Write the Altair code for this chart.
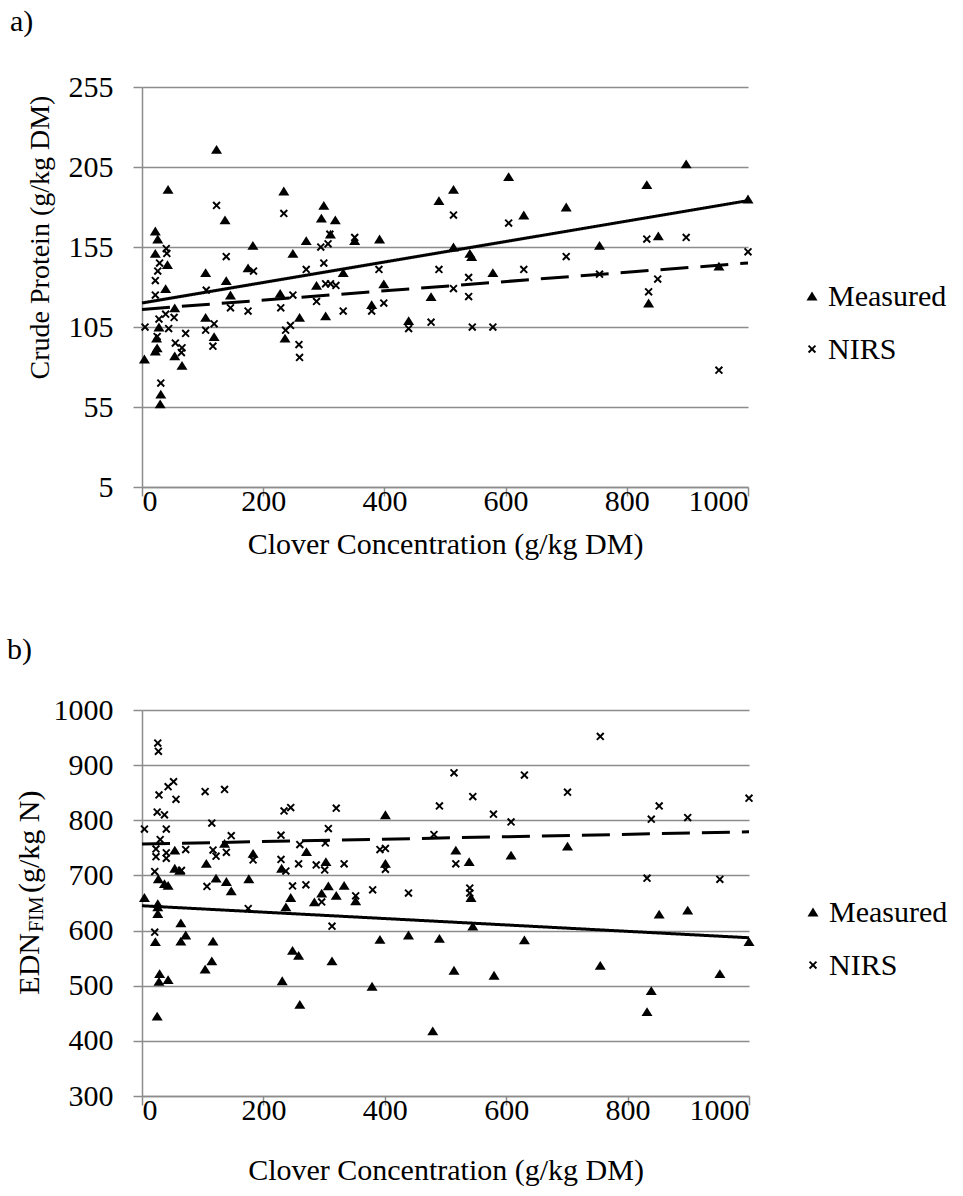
import altair as alt
import pandas as pd

series_names = ["Measured", "NIRS"]
x_ticks = [0, 200, 400, 600, 800, 1000]
a_y_ticks = [5, 55, 105, 155, 205, 255]
b_y_ticks = [300, 400, 500, 600, 700, 800, 900, 1000]

# ---- panel a) Crude protein ----
a_meas_x = [4, 22, 26, 22, 42, 39, 54, 28, 24, 25, 22, 54, 66, 31, 30, 43, 105, 105, 119, 123,
            137, 183, 139, 146, 175, 234, 249, 228, 236, 260, 271, 300, 296, 319, 288, 303, 332,
            311, 351, 392, 399, 379, 440, 477, 490, 514, 605, 630, 700, 514, 541, 544, 579, 755,
            833, 898, 852, 1000, 952, 836]
a_meas_y = [85, 165, 160, 151, 144, 129, 117, 105, 98, 92, 90, 87, 81, 63, 57, 191, 139, 111, 99, 216,
            172, 156, 134, 125, 142, 190, 151, 126, 98, 111, 159, 181, 173, 172, 131, 112, 139,
            163, 159, 160, 132, 119, 109, 124, 184, 191, 199, 175, 180, 155, 151, 149, 139, 156,
            194, 207, 162, 185, 143, 120]
a_nirs_x = [5, 22, 22, 26, 29, 40, 41, 28, 39, 53, 44, 25, 55, 72, 66, 65, 31, 123, 139, 106,
            146, 119, 105, 117, 175, 184, 234, 249, 229, 245, 237, 259, 260, 271, 295, 300, 310,
            307, 303, 311, 320, 288, 332, 351, 391, 399, 379, 440, 477, 490, 514, 605, 700, 539,
            630, 755, 514, 539, 545, 579, 833, 898, 851, 836, 1000, 952]
a_nirs_y = [105, 125, 134, 140, 145, 154, 151, 110, 113, 111, 104, 99, 95, 101, 92, 89, 70, 181, 149, 128,
            117, 107, 103, 93, 115, 140, 176, 125, 117, 106, 103, 94, 86, 141, 155, 145, 163,
            157, 132, 132, 131, 121, 115, 161, 141, 120, 115, 104, 108, 141, 175, 170, 149, 136,
            141, 138, 129, 124, 105, 105, 160, 161, 135, 127, 152, 78]
a_trend_x = [0, 1000]
a_trend_meas = [120, 184]
a_trend_nirs = [116, 145]

# ---- panel b) EDN FIM ----
b_meas_x = [4, 26, 26, 26, 22, 29, 43, 28, 25, 64, 72, 64, 54, 54, 62, 27, 37, 43, 106, 136,
            122, 139, 147, 117, 115, 104, 176, 183, 237, 245, 230, 231, 248, 258, 260, 271, 303,
            307, 320, 333, 284, 296, 352, 313, 379, 392, 401, 401, 439, 479, 490, 517, 539, 542,
            545, 514, 580, 608, 630, 701, 755, 839, 832, 852, 899, 952, 1000]
b_meas_y = [660, 649, 643, 631, 580, 522, 511, 508, 445, 614, 592, 581, 746, 713, 709, 694, 685, 682, 722, 758,
            695, 689, 672, 581, 545, 530, 694, 740, 643, 660, 713, 509, 564, 555, 466, 743, 725,
            681, 664, 682, 652, 668, 654, 545, 499, 584, 810, 722, 592, 418, 586, 746, 725, 660,
            608, 528, 519, 737, 583, 753, 537, 491, 453, 630, 637, 522, 580]
b_nirs_x = [26, 27, 28, 43, 52, 56, 25, 37, 4, 40, 30, 23, 40, 40, 23, 72, 21, 65, 21, 104,
            136, 115, 147, 117, 122, 139, 107, 183, 175, 229, 234, 245, 229, 237, 258, 260, 248,
            270, 287, 301, 296, 307, 302, 320, 333, 313, 352, 380, 392, 401, 401, 439, 481, 490,
            514, 545, 579, 608, 630, 701, 755, 839, 852, 899, 1000, 517, 540, 540, 832, 952]
b_nirs_y = [940, 925, 846, 861, 870, 838, 815, 810, 784, 784, 765, 748, 741, 731, 734, 747, 707, 709, 597, 852,
            856, 795, 772, 746, 735, 742, 680, 728, 640, 773, 817, 823, 729, 708, 721, 756, 681,
            683, 719, 710, 652, 785, 759, 822, 721, 608, 663, 674, 747, 749, 711, 668, 774, 826,
            886, 843, 811, 797, 882, 851, 952, 802, 826, 805, 840, 721, 677, 668, 695, 693]
b_trend_x = [0, 1000]
b_trend_meas = [645, 587]
b_trend_nirs = [757, 779]

# y-axis title of b) in three pieces (main text, subscript, unit)
b_title_parts = ["EDN", "FIM", "(g/kg N)"]

TRI = "M0,-0.8L1,0.8L-1,0.8Z"
XSH = ("M-0.75,-0.5L-0.5,-0.75L0,-0.25L0.5,-0.75L0.75,-0.5L0.25,0L0.75,0.5L0.5,0.75"
       "L0,0.25L-0.5,0.75L-0.75,0.5L-0.25,0Z")
SHAPES = [TRI, XSH]

FONT = "Times New Roman, Liberation Serif, DejaVu Serif, serif"
GRAY = "#8c8c8c"
FS = 30


def points_df(mx, my, nx, ny):
    return pd.DataFrame({
        "x": list(mx) + list(nx),
        "y": list(my) + list(ny),
        "series": [series_names[0]] * len(mx) + [series_names[1]] * len(nx),
    })


def trend_df(tx, tm, tn):
    return pd.DataFrame({
        "x": list(tx) + list(tx),
        "y": list(tm) + list(tn),
        "trend": [series_names[0]] * len(tx) + [series_names[1]] * len(tx),
    })


def legend_layers(w, top, step):
    """Hand-built legend (symbol + label) to the right of the plot."""
    ldf = pd.DataFrame({"name": series_names})
    out = []
    for i, name in enumerate(series_names):
        base = alt.Chart(ldf).transform_filter(alt.datum.name == name)
        out.append(base.mark_point(filled=True, opacity=1, color="black", size=121,
                                   shape=SHAPES[i]).encode(
            x=alt.value(w + 64), y=alt.value(top + i * step)))
        out.append(base.mark_text(font=FONT, fontSize=FS, align="left", baseline="middle",
                                  color="black").encode(
            text="name:N", x=alt.value(w + 80), y=alt.value(top + i * step + 1)))
    return out


def panel(pts, trd, ydom, yticks, ytitle, label, w, h, leg_top, title_dx, title_off,
          xtitle_pad, ytitle_opts, extra=None):
    xenc = alt.X("x:Q", scale=alt.Scale(domain=[0, 1000], nice=False),
                 axis=alt.Axis(values=x_ticks, grid=False, title="Clover Concentration (g/kg DM)",
                               titleFont=FONT, labelFont=FONT,
                               format="d", tickSize=9, labelPadding=-10, titlePadding=xtitle_pad))
    yaxis = alt.Axis(values=yticks, grid=True, title=ytitle, tickSize=9, labelPadding=20,
                     titleFont=FONT, labelFont=FONT, titlePadding=14, format="d", **ytitle_opts)
    yenc = alt.Y("y:Q", scale=alt.Scale(domain=ydom, nice=False, zero=False), axis=yaxis)
    pts_layer = alt.Chart(pts).mark_point(filled=True, opacity=1, color="black", size=121).encode(
        x=xenc, y=yenc,
        shape=alt.Shape("series:N", scale=alt.Scale(domain=series_names, range=SHAPES), legend=None),
    )
    line_layer = alt.Chart(trd).mark_line(color="black", strokeWidth=3).encode(
        x="x:Q", y="y:Q", detail="trend:N",
        strokeDash=alt.StrokeDash("trend:N", scale=alt.Scale(domain=series_names,
                                                              range=[[1, 0], [28, 12]]), legend=None),
    )
    layers = [line_layer, pts_layer] + legend_layers(w, leg_top, 53)
    if extra is not None:
        layers += extra
    return alt.layer(*layers).properties(
        width=w, height=h,
        title=alt.TitleParams(label, anchor="start", frame="bounds", font=FONT, fontSize=FS,
                              fontWeight="normal", color="black", dx=title_dx, offset=title_off),
    )


# manual y title for b) with subscript (reads bottom to top)
tdf = pd.DataFrame({"t": b_title_parts})
t_main = alt.Chart(tdf).transform_filter(alt.datum.t == b_title_parts[0]).mark_text(
    font=FONT, fontSize=FS, angle=270, align="right", baseline="middle", color="black"
).encode(text="t:N", x=alt.value(-112), y=alt.value(223))
t_sub = alt.Chart(tdf).transform_filter(alt.datum.t == b_title_parts[1]).mark_text(
    font=FONT, fontSize=20, angle=270, align="left", baseline="middle", color="black"
).encode(text="t:N", x=alt.value(-105), y=alt.value(222))
t_unit = alt.Chart(tdf).transform_filter(alt.datum.t == b_title_parts[2]).mark_text(
    font=FONT, fontSize=FS, angle=270, align="left", baseline="middle", color="black"
).encode(text="t:N", x=alt.value(-112), y=alt.value(183))

panel_a = panel(points_df(a_meas_x, a_meas_y, a_nirs_x, a_nirs_y),
                trend_df(a_trend_x, a_trend_meas, a_trend_nirs),
                [5, 255], a_y_ticks, "Crude Protein (g/kg DM)", "a)", 606, 400, 209, -16, 35,
                13, {"titleY": 150, "titleFontSize": 28})
panel_b = panel(points_df(b_meas_x, b_meas_y, b_nirs_x, b_nirs_y),
                trend_df(b_trend_x, b_trend_meas, b_trend_nirs),
                [300, 1000], b_y_ticks, "", "b)", 607, 386, 202, -8, 30,
                30, {}, extra=[t_main, t_sub, t_unit])

chart = alt.vconcat(panel_a, panel_b, spacing=76).properties(
    padding={"left": 7, "top": 7, "right": 5, "bottom": 5}
).configure_view(stroke=None).configure_axis(
    labelFont=FONT, titleFont=FONT, labelFontSize=FS, titleFontSize=FS, titleFontWeight="normal",
    labelColor="black", titleColor="black", domainColor=GRAY, tickColor=GRAY, gridColor=GRAY,
    domainWidth=1.5, tickWidth=1.5, gridWidth=1.5,
)

chart.save("out.html", embed_options={"renderer": "svg", "actions": False})
